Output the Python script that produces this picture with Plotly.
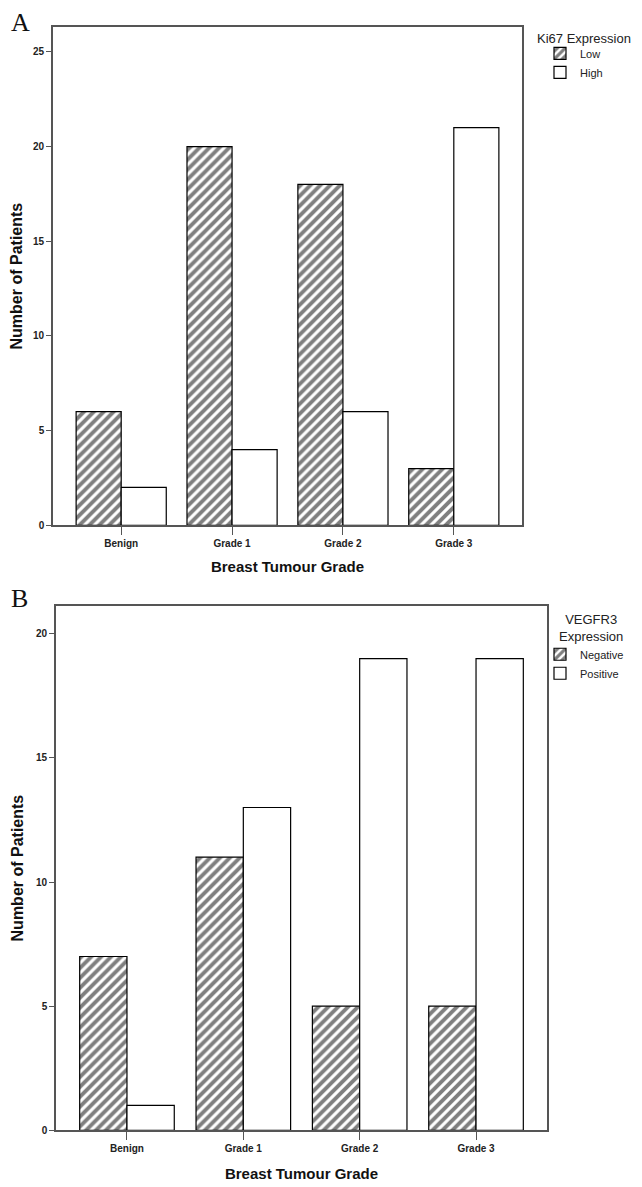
import plotly.graph_objects as go

categories = ["Benign", "Grade 1", "Grade 2", "Grade 3"]
ki67_low = [6, 20, 18, 3]
ki67_high = [2, 4, 6, 21]
vegfr3_neg = [7, 11, 5, 5]
vegfr3_pos = [1, 13, 19, 19]
yticks_a = [0, 5, 10, 15, 20, 25]
yticks_b = [0, 5, 10, 15, 20]

OFF = 8  # default page body margin
W, H = 642 - OFF, 1187 - OFF
FONT = "Liberation Sans, Arial, sans-serif"
FRAME = "#555555"

fig = go.Figure()

def hatched():
    return dict(shape="/", fgcolor="black", bgcolor="white", size=7, solidity=0.56)

fig.add_trace(go.Bar(x=categories, y=ki67_low, name="Low", xaxis="x", yaxis="y",
                     marker=dict(color="white", pattern=hatched(), line=dict(color="black", width=1.2)),
                     legend="legend"))
fig.add_trace(go.Bar(x=categories, y=ki67_high, name="High", xaxis="x", yaxis="y",
                     marker=dict(color="white", line=dict(color="black", width=1.2)),
                     legend="legend"))
fig.add_trace(go.Bar(x=categories, y=vegfr3_neg, name="Negative", xaxis="x2", yaxis="y2",
                     marker=dict(color="white", pattern=hatched(), line=dict(color="black", width=1.2)),
                     legend="legend2"))
fig.add_trace(go.Bar(x=categories, y=vegfr3_pos, name="Positive", xaxis="x2", yaxis="y2",
                     marker=dict(color="white", line=dict(color="black", width=1.2)),
                     legend="legend2"))

def px_x(v):
    return (v - OFF) / W

def px_y(v):
    return 1 - (v - OFF) / H

axis_common = dict(showline=True, linecolor=FRAME, linewidth=1.6, mirror=True,
                   showgrid=False, zeroline=False, ticks="outside", tickcolor=FRAME,
                   tickwidth=1.4)
tickfont = dict(family=FONT, size=10, color="#222", weight="bold")
titlefont = dict(family=FONT, size=16, color="#111", weight="bold")
xtitlefont = dict(family=FONT, size=15, color="#111", weight="bold")

fig.update_layout(
    width=W, height=H,
    margin=dict(l=0, r=0, t=0, b=0),
    paper_bgcolor="white", plot_bgcolor="white",
    barmode="group", bargap=0.187, bargroupgap=0,
    xaxis=dict(domain=[px_x(53), px_x(522)], anchor="y", range=[-0.615, 3.615],
               ticklen=8, tickfont=tickfont,
               title=dict(text="Breast Tumour Grade", font=xtitlefont, standoff=13),
               **axis_common),
    yaxis=dict(domain=[px_y(528), px_y(27)], anchor="x", range=[0, 26.32],
               tickvals=yticks_a, ticklen=5, tickfont=tickfont,
               title=dict(text="Number of Patients", font=titlefont, standoff=8),
               **axis_common),
    xaxis2=dict(domain=[px_x(56), px_x(547)], anchor="y2", range=[-0.61, 3.61],
                ticklen=8, tickfont=tickfont,
                title=dict(text="Breast Tumour Grade", font=xtitlefont, standoff=15),
                **axis_common),
    yaxis2=dict(domain=[px_y(1136), px_y(609)], anchor="x2", range=[0, 21.12],
                tickvals=yticks_b, ticklen=5, tickfont=tickfont,
                title=dict(text="Number of Patients", font=titlefont, standoff=8),
                **axis_common),
    legend=dict(x=px_x(540), y=px_y(39), xanchor="left", yanchor="top",
                font=dict(family=FONT, size=11, color="#222"),
                bgcolor="rgba(0,0,0,0)", tracegroupgap=0, itemwidth=30),
    legend2=dict(x=px_x(540), y=px_y(643), xanchor="left", yanchor="top",
                 font=dict(family=FONT, size=11, color="#222"),
                 bgcolor="rgba(0,0,0,0)", tracegroupgap=0, itemwidth=30),
    showlegend=True,
)

fig.add_annotation(text="A", x=px_x(9), y=px_y(6), xref="paper", yref="paper",
                   xanchor="left", yanchor="top", showarrow=False,
                   font=dict(family="Liberation Serif, Times New Roman, serif", size=26, color="#111"))
fig.add_annotation(text="B", x=px_x(9), y=px_y(585), xref="paper", yref="paper",
                   xanchor="left", yanchor="top", showarrow=False,
                   font=dict(family="Liberation Serif, Times New Roman, serif", size=26, color="#111"))
fig.add_annotation(text="Ki67 Expression", x=px_x(584), y=px_y(39), xref="paper", yref="paper",
                   xanchor="center", yanchor="middle", showarrow=False,
                   font=dict(family=FONT, size=13, color="#222"))
fig.add_annotation(text="VEGFR3<br>Expression", x=px_x(591), y=px_y(631), xref="paper", yref="paper",
                   xanchor="center", yanchor="middle", showarrow=False,
                   font=dict(family=FONT, size=13, color="#222"))

fig.write_html("out.html")
